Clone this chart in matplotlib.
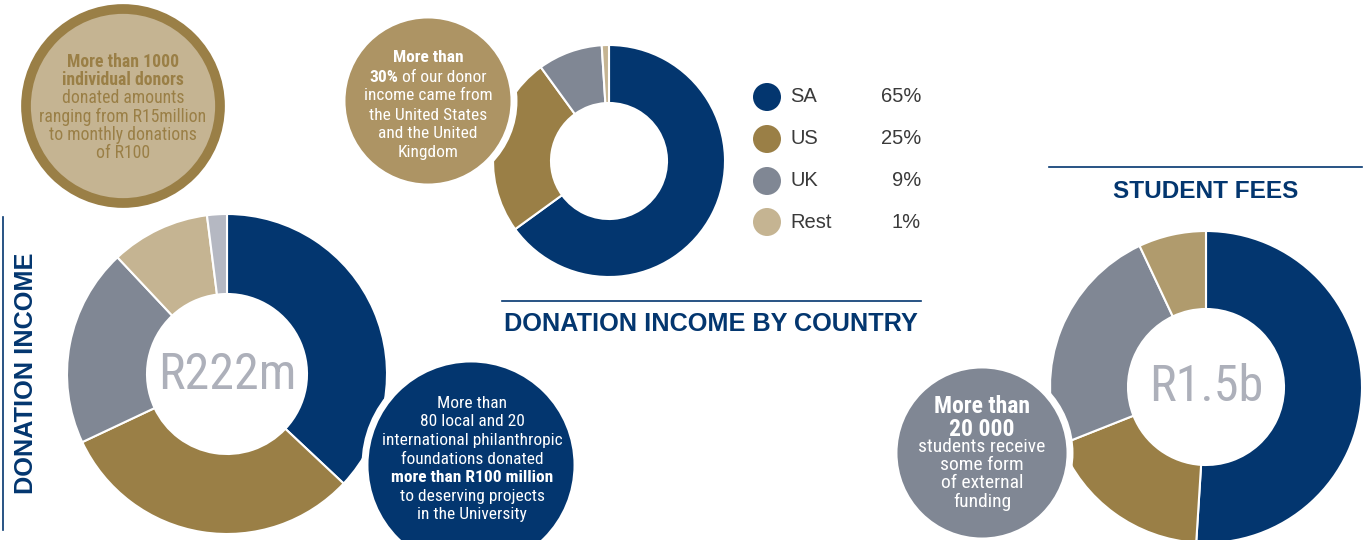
import matplotlib
matplotlib.use('Agg')
import matplotlib.pyplot as plt
from matplotlib.patches import Circle
from matplotlib import font_manager

# ---- data ----
country_labels = ['SA', 'US', 'UK', 'Rest']
country_share = [65, 25, 9, 1]
donation_split = [37, 31, 20, 10, 2]
fees_split = [51, 18, 24, 7]
donation_total = 'R222m'
fees_total = 'R1.5b'

NAVY = '#03366f'
GOLD = '#9a7f46'
GRAY = '#808794'
TAN = '#c5b492'
LIGHTGRAY = '#b5b8c2'
FEES_TAN = '#b09b6d'
MID_GOLD = '#ad9464'
CENTER_GRAY = '#adb0ba'


def pick_narrow():
    # use a condensed face if one is installed, else plain Liberation Sans
    names = {f.name: f for f in font_manager.fontManager.ttflist}
    for n in ['Liberation Sans Narrow', 'Roboto Condensed', 'Open Sans Condensed',
              'Noto Sans Condensed', 'DejaVu Sans Condensed']:
        if n in names:
            return [n, 'Liberation Sans', 'DejaVu Sans'], 'normal'
    for f in font_manager.fontManager.ttflist:
        if f.name in ('DejaVu Sans', 'Noto Sans', 'Open Sans', 'Roboto') and \
                f.stretch != 'normal' and str(f.stretch) in ('condensed', 'semi-condensed', '300', '400'):
            return [f.name, 'Liberation Sans'], f.stretch
    return ['Liberation Sans', 'DejaVu Sans'], 'normal'


NARROW, NSTRETCH = pick_narrow()
SANS = ['Liberation Sans', 'DejaVu Sans']

W, H = 1367, 540
fig = plt.figure(figsize=(W / 100, H / 100), dpi=100)
ax = fig.add_axes([0, 0, 1, 1])
rend = fig.canvas.get_renderer()


def Y(y):
    # pixel row (from top) -> data y
    return H - y


def fit_size(txt, target, family, weight='normal', stretch='normal'):
    # font size that makes txt about `target` pixels wide
    t = ax.text(0, 0, txt, fontsize=10, family=family, fontweight=weight,
                fontstretch=stretch)
    w = t.get_window_extent(rend).width
    t.remove()
    return 10 * target / w


def donut(values, colors, cx, cy, r):
    ax.pie(values, colors=colors, center=(cx, Y(cy)), radius=r,
           startangle=90, counterclock=False,
           wedgeprops=dict(width=r / 2, edgecolor='white', linewidth=1.5))


def bubble(cx, cy, r, fill, edge='white', lw=5, z=3):
    ax.add_patch(Circle((cx, Y(cy)), r, facecolor=fill, edgecolor=edge,
                        linewidth=lw, zorder=z))


def text_lines(cx, rows, color, widest, target, z=5, max_size=14):
    # rows: (y_px, [(text, bold), ...]) -- pieces on one row centred together
    size = min(max_size, fit_size(widest[0], target, NARROW,
                                  'bold' if widest[1] else 'normal', NSTRETCH))
    for y, pieces in rows:
        objs = []
        for txt, bold in pieces:
            t = ax.text(0, Y(y), txt, fontsize=size, color=color,
                        family=NARROW, fontstretch=NSTRETCH,
                        fontweight='bold' if bold else 'normal',
                        ha='left', va='center', zorder=z)
            objs.append(t)
        widths = [o.get_window_extent(rend).width for o in objs]
        gap = size * 0.3 if len(objs) > 1 else 0
        x = cx - (sum(widths) + gap * (len(objs) - 1)) / 2
        for o, w in zip(objs, widths):
            o.set_x(x)
            x += w + gap


# ---- donuts ----
donut(donation_split, [NAVY, GOLD, GRAY, TAN, LIGHTGRAY], 227, 374, 160)
donut(country_share, [NAVY, GOLD, GRAY, TAN], 609, 161, 116)
donut(fees_split, [NAVY, GOLD, GRAY, FEES_TAN], 1206, 387, 156)

ax.text(227, Y(375), donation_total, color=CENTER_GRAY, family=NARROW,
        fontstretch=NSTRETCH, ha='center', va='center', zorder=4,
        fontsize=min(36, fit_size(donation_total, 138, NARROW, stretch=NSTRETCH)))
ax.text(1206, Y(387), fees_total, color=CENTER_GRAY, family=NARROW,
        fontstretch=NSTRETCH, ha='center', va='center', zorder=4,
        fontsize=min(37, fit_size(fees_total, 114, NARROW, stretch=NSTRETCH)))

# ---- bubbles ----
bubble(123, 106, 97, TAN, edge=GOLD, lw=7)
bubble(428, 101, 86, MID_GOLD)
bubble(471, 465, 106, NAVY)
bubble(982, 453, 88, GRAY)

text_lines(123, [(62, [('More than 1000', True)]),
                 (80, [('individual donors', True)]),
                 (98, [('donated amounts', False)]),
                 (117, [('ranging from R15million', False)]),
                 (135, [('to monthly donations', False)]),
                 (153, [('of R100', False)])], GOLD,
           ('ranging from R15million', False), 167)

text_lines(428, [(58, [('More than', True)]),
                 (77, [('30%', True), ('of our donor', False)]),
                 (95, [('income came from', False)]),
                 (115, [('the United States', False)]),
                 (133, [('and the United', False)]),
                 (152, [('Kingdom', False)])], 'white',
           ('income came from', False), 128)

text_lines(472, [(403, [('More than', False)]),
                 (422, [('80 local and 20', False)]),
                 (440, [('international philanthropic', False)]),
                 (460, [('foundations donated', False)]),
                 (478, [('more than R100 million', True)]),
                 (497, [('to deserving projects', False)]),
                 (515, [('in the University', False)])], 'white',
           ('international philanthropic', False), 180)

# bold two-line header of the grey bubble as one text block
ax.text(982, Y(418), 'More than\n20 000', color='white', family=NARROW,
        fontstretch=NSTRETCH, fontweight='bold', ha='center', va='center',
        linespacing=0.95, zorder=5,
        fontsize=min(17, fit_size('More than', 96, NARROW, 'bold', NSTRETCH)))
text_lines(982, [(447, [('students receive', False)]),
                 (465, [('some form', False)]),
                 (483, [('of external', False)]),
                 (502, [('funding', False)])], 'white',
           ('students receive', False), 128)

# ---- legend ----
leg_y = [97, 139, 181, 222]
for lab, val, c, y in zip(country_labels, country_share, [NAVY, GOLD, GRAY, TAN], leg_y):
    ax.add_patch(Circle((767, Y(y)), 14, facecolor=c, edgecolor='none', zorder=3))
    ax.text(790, Y(y), lab, fontsize=14.5, color='#3a3a3a', family=SANS,
            ha='left', va='center')
    ax.text(921, Y(y), f'{val}%', fontsize=14.5, color='#3a3a3a', family=SANS,
            ha='right', va='center')

# ---- headings & rules ----
ax.plot([502, 921], [Y(301), Y(301)], color=NAVY, lw=1.2)
ax.text(711, Y(324), 'DONATION INCOME BY COUNTRY', color=NAVY, family=SANS,
        fontweight='bold', ha='center', va='center',
        fontsize=fit_size('DONATION INCOME BY COUNTRY', 411, SANS, 'bold'))

ax.plot([1049, 1362], [Y(167), Y(167)], color=NAVY, lw=1.2)
ax.text(1206, Y(191), 'STUDENT FEES', color=NAVY, family=SANS,
        fontweight='bold', ha='center', va='center',
        fontsize=fit_size('STUDENT FEES', 185, SANS, 'bold'))

ax.plot([3, 3], [Y(217), Y(530)], color=NAVY, lw=1.2)
ax.text(26, Y(373), 'DONATION INCOME', color=NAVY, rotation=90, family=SANS,
        fontweight='bold', ha='center', va='center',
        fontsize=fit_size('DONATION INCOME', 240, SANS, 'bold'))

ax.set_xlim(0, W)
ax.set_ylim(0, H)
ax.set_aspect('equal')
ax.axis('off')

fig.savefig('out.png', dpi=100)
